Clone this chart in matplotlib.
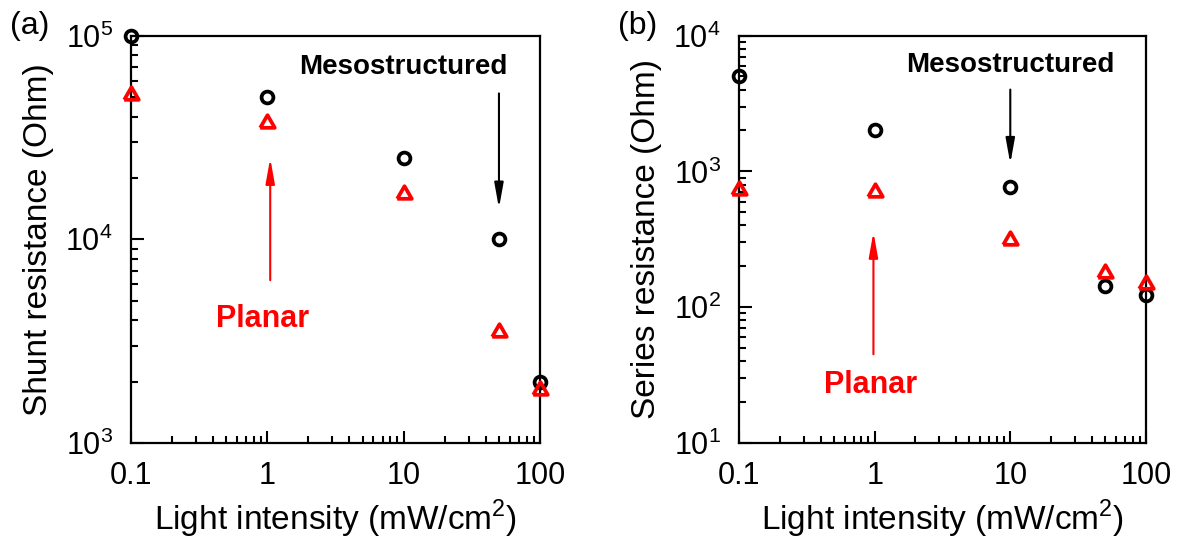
import matplotlib.pyplot as plt
from matplotlib.ticker import LogLocator, NullFormatter

plt.rcParams['font.family'] = ['Liberation Sans', 'DejaVu Sans']
plt.rcParams['mathtext.fontset'] = 'custom'
plt.rcParams['mathtext.rm'] = 'Liberation Sans'

intensity = [0.1, 1, 10, 50, 100]

shunt_meso = [1.0e5, 5.0e4, 2.5e4, 1.0e4, 2.0e3]
shunt_planar = [5.2e4, 3.8e4, 1.7e4, 3.6e3, 1.86e3]

series_meso = [5000, 2000, 770, 143, 124]
series_planar = [750, 730, 321, 184, 152]

# equilateral open triangle, centred on its bounding box
tri = [(-1, -0.866), (1, -0.866), (0, 0.866), (-1, -0.866)]

fig = plt.figure(figsize=(11.78, 5.41), dpi=100)
ax1 = fig.add_axes([0.1112, 0.1811, 0.3472, 0.7532])
ax2 = fig.add_axes([0.6273, 0.1811, 0.3455, 0.7532])


def style_axis(ax, ylim, ylabel):
    ax.set_xscale('log')
    ax.set_yscale('log')
    ax.set_xlim(0.1, 100)
    ax.set_ylim(*ylim)
    for sp in ax.spines.values():
        sp.set_linewidth(1.6)
    ax.xaxis.set_minor_locator(LogLocator(base=10, subs=range(2, 10), numticks=20))
    ax.yaxis.set_minor_locator(LogLocator(base=10, subs=range(2, 10), numticks=20))
    ax.xaxis.set_minor_formatter(NullFormatter())
    ax.yaxis.set_minor_formatter(NullFormatter())
    ax.set_xticks([0.1, 1, 10, 100])
    ax.set_xticklabels(['0.1', '1', '10', '100'])
    ax.tick_params(which='both', direction='in', top=False, right=False, width=1.5,
                   labelsize=22)
    ax.tick_params(which='major', length=9)
    ax.tick_params(which='minor', length=5)
    ax.tick_params(axis='x', pad=13)
    ax.tick_params(axis='y', pad=13)
    ax.set_xlabel('Light intensity (mW/cm$^2$)', fontsize=24, labelpad=5)
    ax.set_ylabel(ylabel, fontsize=24, labelpad=8)


def draw(ax, meso, planar):
    ax.plot(intensity, meso, 'o', ms=8.5, mfc='none', mec='black', mew=2.7,
            clip_on=False, zorder=5)
    ax.plot(intensity, planar, marker=tri, ls='none', ms=10.5, mfc='none',
            mec='red', mew=2.7, clip_on=False, zorder=6)


def arrow(ax, x, y0, y1, color):
    ax.annotate('', xy=(x, y1), xytext=(x, y0),
                arrowprops=dict(arrowstyle='-|>,head_length=1.5,head_width=0.27',
                                color=color, lw=1.5, mutation_scale=10,
                                shrinkA=0, shrinkB=0))


draw(ax1, shunt_meso, shunt_planar)
style_axis(ax1, (1e3, 1e5), 'Shunt resistance (Ohm)')
ax1.text(10, 6.97e4, 'Mesostructured', fontsize=20, fontweight='bold',
         ha='center', va='center')
arrow(ax1, 50, 5.2e4, 1.42e4, 'black')
ax1.text(0.93, 4.06e3, 'Planar', fontsize=22, fontweight='bold', color='red',
         ha='center', va='center')
arrow(ax1, 1.05, 6.3e3, 2.5e4, 'red')

draw(ax2, series_meso, series_planar)
style_axis(ax2, (1e1, 1e4), 'Series resistance (Ohm)')
ax2.text(10, 6.1e3, 'Mesostructured', fontsize=20, fontweight='bold',
         ha='center', va='center')
arrow(ax2, 10, 4.0e3, 1.14e3, 'black')
ax2.text(0.94, 26.7, 'Planar', fontsize=22, fontweight='bold', color='red',
         ha='center', va='center')
arrow(ax2, 0.98, 45, 357, 'red')

fig.text(0.0085, 0.952, '(a)', fontsize=23, va='center', ha='left')
fig.text(0.5246, 0.952, '(b)', fontsize=23, va='center', ha='left')

fig.savefig('out.png', dpi=100)
